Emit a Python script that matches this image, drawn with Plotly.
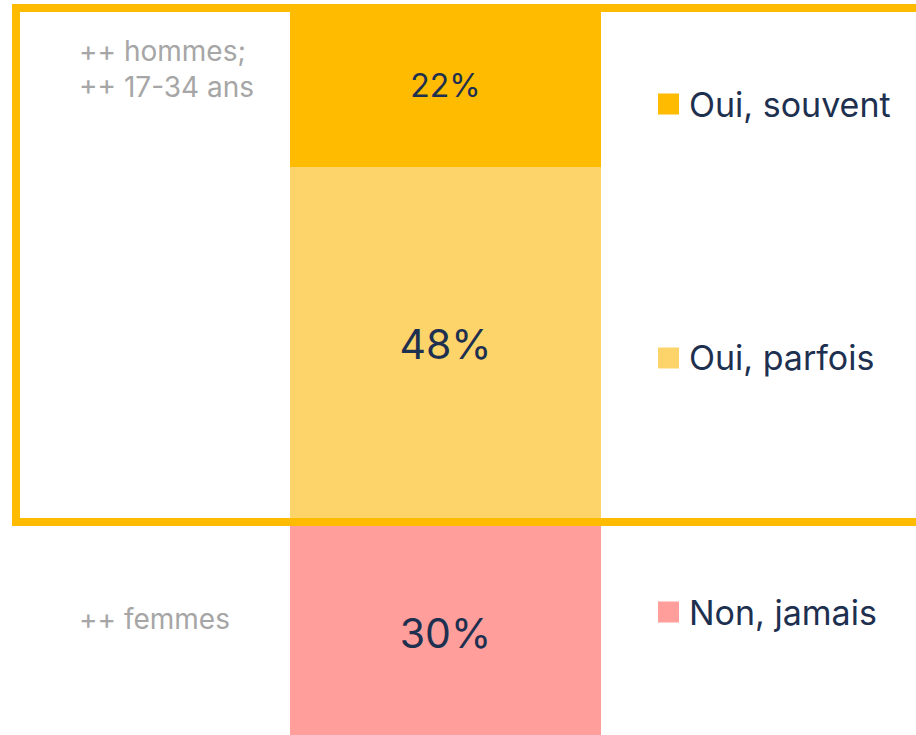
import plotly.graph_objects as go

# Data
categories = ["Non, jamais", "Oui, parfois", "Oui, souvent"]
values = [30, 48, 22]
colors = ["#FF9E9B", "#FDD46A", "#FFBB00"]
text_sizes = [41, 41, 32]
note_top = "++ hommes;<br>++ 17-34 ans"
note_bottom = "++ femmes"

W, H = 916, 735
NAVY = "#1E3050"
GREY = "#A6A6A6"
FONT = "Inter"

fig = go.Figure()
for cat, val, col, ts in zip(categories, values, colors, text_sizes):
    fig.add_trace(go.Bar(
        x=[0], y=[val], name=cat, width=1,
        marker=dict(color=col, line=dict(width=0)),
        text=[f"{val}%"], textposition="inside", insidetextanchor="middle",
        textangle=0,
        insidetextfont=dict(color=NAVY, size=ts, family=FONT),
        showlegend=False, hoverinfo="skip",
    ))

# axis scaling (pixels per % unit)
p = 7.4
total = sum(values)
y_top_px = 4
ymax = total + y_top_px / p
ymin = ymax - H / p
bar_px = 311
xc = 445.5
xmin = -xc / bar_px
xmax = (W - xc) / bar_px

fig.update_layout(
    width=W, height=H,
    margin=dict(l=0, r=0, t=0, b=0),
    paper_bgcolor="white", plot_bgcolor="white",
    barmode="stack",
    xaxis=dict(range=[xmin, xmax], visible=False, fixedrange=True),
    yaxis=dict(range=[ymin, ymax], visible=False, fixedrange=True),
    font=dict(family=FONT),
)

# highlighted frame around "Oui" answers
boundary = values[0]
fig.add_shape(type="rect", xref="x", yref="y",
              x0=(16 - xc) / bar_px, x1=xmax + 1,
              y0=boundary, y1=ymax - 8 / p,
              line=dict(color="#FFBB00", width=8), fillcolor="rgba(0,0,0,0)",
              layer="above")

# legend (squares + labels)
legend_y_px = [612, 358, 104]
for cat, col, ypx in zip(categories, colors, legend_y_px):
    fig.add_shape(type="rect", xref="paper", yref="paper",
                  x0=658 / W, x1=679 / W,
                  y0=1 - (ypx + 10.5) / H, y1=1 - (ypx - 10.5) / H,
                  line=dict(width=0), fillcolor=col, layer="above")
    fig.add_annotation(xref="paper", yref="paper", x=687 / W, y=1 - ypx / H,
                       text=cat, showarrow=False, xanchor="left", yanchor="middle",
                       font=dict(color=NAVY, size=34, family=FONT))

# side notes
fig.add_annotation(xref="paper", yref="paper", x=77 / W, y=1 - 69 / H,
                   text=note_top, showarrow=False, xanchor="left", yanchor="middle",
                   align="left", font=dict(color=GREY, size=28, family=FONT))
fig.add_annotation(xref="paper", yref="paper", x=77 / W, y=1 - 619 / H,
                   text=note_bottom, showarrow=False, xanchor="left", yanchor="middle",
                   align="left", font=dict(color=GREY, size=28, family=FONT))

fig.write_html("out.html", config={"displayModeBar": False},
               post_script="document.body.style.margin='0px';")
